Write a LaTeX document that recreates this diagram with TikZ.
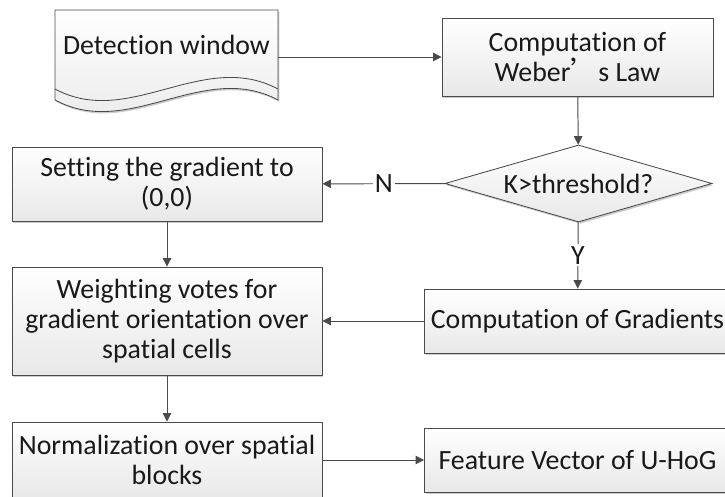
\documentclass[tikz,border=0pt]{standalone}
\usepackage{fontspec}
\setmainfont{Carlito}[Ligatures=NoCommon]
\newfontfamily\cjk{Noto Sans CJK SC}
\usepackage{tikz}
\usetikzlibrary{arrows.meta,shapes.geometric,shadows}
\definecolor{edge}{HTML}{4A4A4A}

\begin{document}
\begin{tikzpicture}[
  x=0.025cm, y=-0.025cm,
  >={Triangle[length=6pt,width=6pt]},
  font=\fontsize{19.8}{21.5}\selectfont,
  box/.style={rectangle,draw=edge,line width=0.6pt,top color=white,bottom color=black!9,
    drop shadow={shadow xshift=1pt,shadow yshift=-1.3pt,fill=black!40,opacity=.5},
    align=center,inner sep=2pt,text=black!90},
  lbox/.style={box,minimum width=7.75cm},
  rbox/.style={box,minimum width=7.65cm,minimum height=1.6cm},
  test/.style={diamond,draw=edge,line width=0.6pt,top color=white,bottom color=black!9,
    drop shadow={shadow xshift=1pt,shadow yshift=-1.3pt,fill=black!40,opacity=.5},
    shape aspect=3.47,minimum width=6.675cm,minimum height=1.925cm,inner sep=0pt,text=black!90},
  arr/.style={edge,->,line width=0.7pt},
  lbl/.style={fill=white,inner sep=1.5pt,text=black!90}
]
  \useasboundingbox (0,0) rectangle (725,497);
  \clip (0,0) rectangle (725,497);
  % document shape with a doubled wavy bottom
  \draw[edge,line width=0.6pt,top color=white,bottom color=black!9,
    drop shadow={shadow xshift=1pt,shadow yshift=-1.3pt,fill=black!40,opacity=.5}]
    (55,10) -- (278,10) -- (278,100) .. controls (203,60) and (129,140) .. (55,100) -- cycle;
  \draw[edge,line width=0.6pt] (55,89) .. controls (129,129) and (203,49) .. (278,89);
  \node[minimum width=5.575cm,inner sep=0pt,text=black!90] (det) at (166.5,45) {Detection window};

  \node[box,minimum width=6.775cm,minimum height=1.95cm] (weber) at (577.5,57)
    {Computation of\\Weber{\cjk ’}s Law};
  \node[test] (kth) at (578.5,183.5) {K>threshold?};
  \node[lbox,minimum height=1.85cm] (zero) at (167,184) {Setting the gradient to\\(0,0)};
  \node[lbox,minimum height=2.7cm] (votes) at (167,321)
    {Weighting votes for\\gradient orientation over\\spatial cells};
  \node[rbox] (grads) at (577.5,321) {Computation of Gradients};
  \node[lbox,minimum height=1.9cm] (norm) at (167,460) {Normalization over spatial\\blocks};
  \node[rbox] (feat) at (577.5,460) {Feature Vector of U-HoG};

  \draw[arr] (det.east |- weber.west) -- (weber.west);
  \draw[arr] (weber) -- (kth);
  \draw[arr] (kth) -- node[lbl] {N} (zero);
  \draw[arr] (kth) -- node[lbl] {Y} (grads);
  \draw[arr] (zero) -- (votes);
  \draw[arr] (grads) -- (votes);
  \draw[arr] (votes) -- (norm);
  \draw[arr] (norm) -- (feat);
\end{tikzpicture}
\end{document}
